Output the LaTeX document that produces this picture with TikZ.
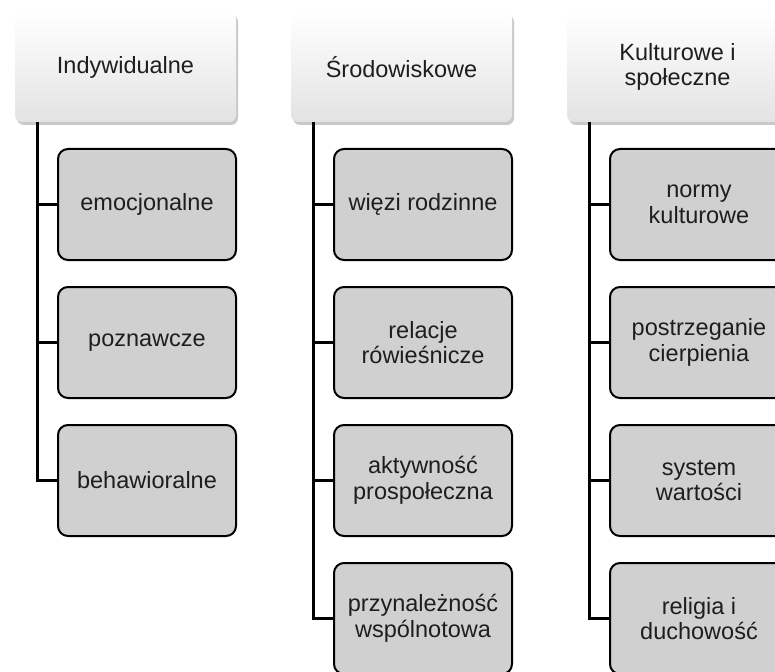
\documentclass[tikz,border=0pt]{standalone}
\usepackage{fontspec}
\setmainfont{Liberation Sans}
\usetikzlibrary{shadows,calc}
\definecolor{boxgray}{HTML}{D0D0D0}
\definecolor{txt}{HTML}{1E1E1E}
\tikzset{
  hdr/.style={rectangle, rounded corners=7pt, minimum width=221pt, minimum height=110pt,
    top color=white, middle color=white, bottom color=black!11,
    drop shadow={shadow xshift=2pt, shadow yshift=-3pt, opacity=0.35, fill=black!60},
    text=txt, align=center, font=\fontsize{23.5}{25.5}\selectfont, inner sep=0pt},
  sub/.style={rectangle, rounded corners=10pt, minimum width=178pt, minimum height=111pt,
    fill=boxgray, draw=black, line width=2pt, text=txt, align=center,
    font=\fontsize{23.5}{25.5}\selectfont, inner sep=0pt},
  conn/.style={draw=black, line width=3pt}
}
\begin{document}
\begin{tikzpicture}[x=1pt,y=-1pt]
\useasboundingbox (0,0) rectangle (775,671);
\clip (0,0) rectangle (775,671);
\fill[white] (0,0) rectangle (775,671);
% headers
\node[hdr] (h1) at (125.5,67) {Indywidualne};
\node[hdr] (h2) at (401.5,67) {Środowiskowe};
\node[hdr] (h3) at (677.5,67) {Kulturowe i\\społeczne};
% spines
\coordinate (s1) at (37,122);
\coordinate (s2) at (313,122);
\coordinate (s3) at (589,122);
% column 1
\node[sub] (a1) at (147,204.5) {emocjonalne};
\node[sub] (a2) at (147,342.5) {poznawcze};
\node[sub] (a3) at (147,480.5) {behawioralne};
% column 2
\node[sub] (b1) at (423,204.5) {więzi rodzinne};
\node[sub] (b2) at (423,342.5) {relacje\\rówieśnicze};
\node[sub] (b3) at (423,480.5) {aktywność\\prospołeczna};
\node[sub] (b4) at (423,618.5) {przynależność\\wspólnotowa};
% column 3
\node[sub] (c1) at (699,204.5) {normy\\kulturowe};
\node[sub] (c2) at (699,342.5) {postrzeganie\\cierpienia};
\node[sub] (c3) at (699,480.5) {system\\wartości};
\node[sub] (c4) at (699,618.5) {religia i\\duchowość};
% connectors
\draw[conn] (s1) |- (a3.west);
\draw[conn] (a1.west) -- (a1.west -| s1);
\draw[conn] (a2.west) -- (a2.west -| s1);
\draw[conn] (s2) |- (b4.west);
\draw[conn] (b1.west) -- (b1.west -| s2);
\draw[conn] (b2.west) -- (b2.west -| s2);
\draw[conn] (b3.west) -- (b3.west -| s2);
\draw[conn] (s3) |- (c4.west);
\draw[conn] (c1.west) -- (c1.west -| s3);
\draw[conn] (c2.west) -- (c2.west -| s3);
\draw[conn] (c3.west) -- (c3.west -| s3);
\end{tikzpicture}
\end{document}
